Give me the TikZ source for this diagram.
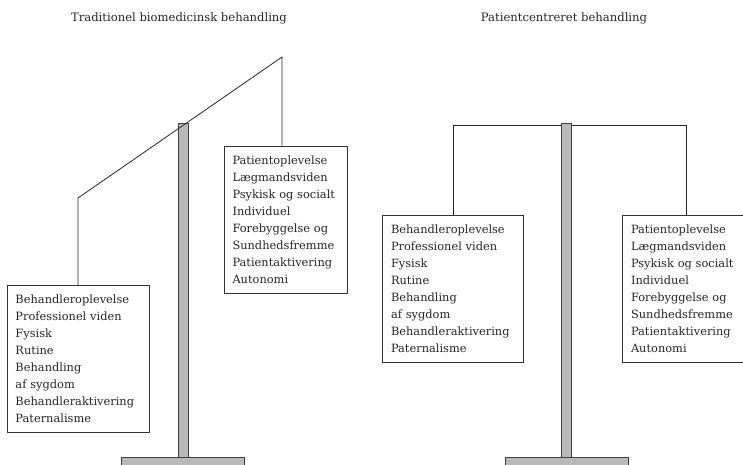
\documentclass[tikz,border=0pt]{standalone}
\usepackage{fontspec}
\setmainfont{DejaVu Serif}

\begin{document}
\begin{tikzpicture}[x=1pt,y=-1pt,line width=0.8pt,
        box/.style={draw=black!80,rectangle,minimum height=147pt,inner ysep=0pt,inner xsep=8.5pt,align=left,font=\fontsize{11.4}{17}\selectfont,text=black!85},
        title/.style={font=\fontsize{11.6}{13}\selectfont,text=black!85},
        pole/.style={draw=black!75,fill=gray!55,inner sep=0pt},
        beam/.style={draw=black!85}]
    \useasboundingbox (0,0) rectangle (743,465);
    \node[title] (t1) at (179,18) {Traditionel biomedicinsk behandling};
    \node[title] (t2) at (564,18) {Patientcentreret behandling};
    % boxes
    \node[box,text width=125pt] (la) at (78,359) {Behandleroplevelse\\Professionel viden\\Fysisk\\Rutine\\Behandling\\af sygdom\\Behandleraktivering\\Paternalisme};
    \node[box,text width=106pt] (lb) at (285.5,219.5) {Patientoplevelse\\Lægmandsviden\\Psykisk og socialt\\Individuel\\Forebyggelse og\\Sundhedsfremme\\Patientaktivering\\Autonomi};
    \node[box,text width=124pt] (ra) at (453,288.5) {Behandleroplevelse\\Professionel viden\\Fysisk\\Rutine\\Behandling\\af sygdom\\Behandleraktivering\\Paternalisme};
    \node[box,text width=106pt] (rb) at (684,288.5) {Patientoplevelse\\Lægmandsviden\\Psykisk og socialt\\Individuel\\Forebyggelse og\\Sundhedsfremme\\Patientaktivering\\Autonomi};
    % right beam (behind the pole)
    \coordinate (rt) at (686,125);
    \draw[beam] (ra.north) |- (rt) -- (rt |- rb.north);
    % poles and feet
    \foreach[count=\i] \px in {183,566.5}{
        \node[pole,minimum width=10pt,minimum height=334pt] (pole\i) at (\px,290) {};
        \node[pole,minimum width=123pt,minimum height=14pt,anchor=north] (foot\i) at (\px,457) {};
    }
    % left beam (tipped)
    \coordinate (lt1) at (78,198);
    \coordinate (lt2) at (282,57);
    \draw[beam] (la.north) -- (lt1) -- (lt2) -- (lt2 |- lb.north);
\end{tikzpicture}
\end{document}
